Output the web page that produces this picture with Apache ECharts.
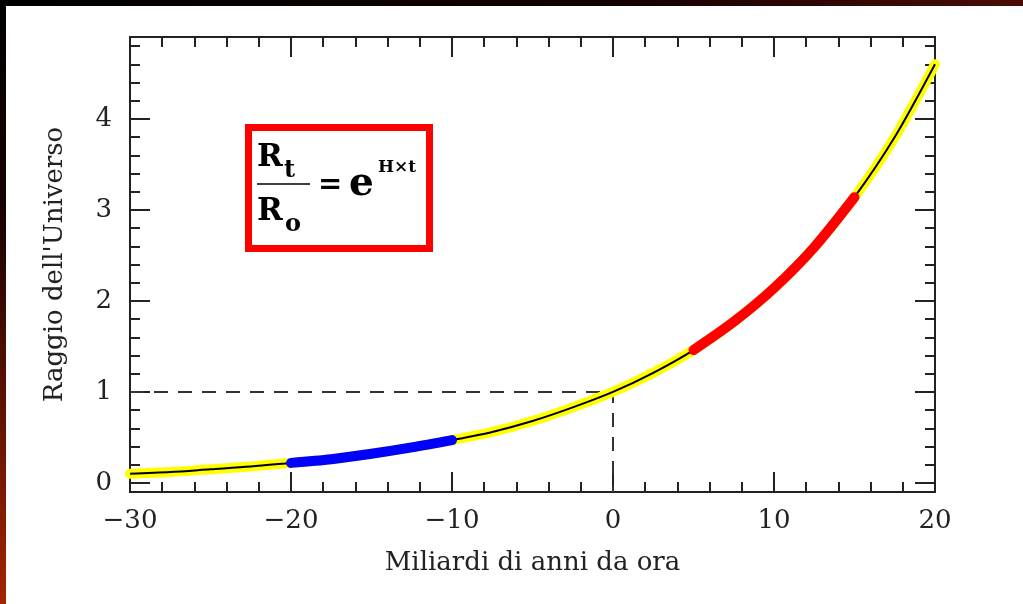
<!DOCTYPE html>
<html>
<head>
<meta charset="utf-8">
<script src="https://cdn.jsdelivr.net/npm/echarts@6/dist/echarts.min.js"></script>
<style>
  html, body { margin: 0; padding: 0; background: #fff; }
  #chart { width: 1023px; height: 604px; }
</style>
</head>
<body>
<div id="chart"></div>
<script>
// Time from now (billions of years) and relative radius of the Universe R(t)/R0
const years  = [-30, -27.5, -25, -22.5, -20, -17.5, -15, -12.5, -10, -7.5, -5, -2.5, 0, 2.5, 5, 7.5, 10, 12.5, 15, 17.5, 20];
const radius = [0.10, 0.12, 0.15, 0.18, 0.22, 0.26, 0.32, 0.39, 0.47, 0.56, 0.68, 0.83, 1.00, 1.21, 1.46, 1.77, 2.14, 2.59, 3.14, 3.80, 4.60];

// Highlighted stretches of the curve
const pastRange   = [-20, -10];
const futureRange = [5, 15];

// Reference guide: R = 1 today
const guideX = [-30, 0, 0];
const guideY = [1, 1, -0.1];

// Axis ticks
const yMajorTicks = [0, 1, 2, 3, 4];
const yMinorTicks = [0.2, 0.4, 0.6, 0.8, 1.2, 1.4, 1.6, 1.8, 2.2, 2.4, 2.6, 2.8, 3.2, 3.4, 3.6, 3.8, 4.2, 4.4, 4.6, 4.8];

const xTitle = 'Miliardi di anni da ora';
const yTitle = "Raggio dell'Universo";

const pairs = (xs, ys) => xs.map((x, i) => [x, ys[i]]);
const curve = pairs(years, radius);
const inRange = (r) => curve.filter(p => p[0] >= r[0] && p[0] <= r[1]);

const FONT = 'DejaVu Serif';
const INK = '#222222';
const minus = v => (v < 0 ? '\u2212' + Math.abs(v) : String(v));

const yMin = -0.1, yMax = 4.9;

function xAxisDef(pos, labels) {
  return {
    type: 'value', position: pos, min: -30, max: 20, interval: 10,
    axisLine: { show: true, onZero: false, lineStyle: { color: INK, width: 2 } },
    axisTick: { show: true, inside: true, length: 20, lineStyle: { color: INK, width: 2 } },
    minorTick: { show: true, splitNumber: 5, length: 10, lineStyle: { color: INK, width: 2 } },
    splitLine: { show: false },
    axisLabel: labels
      ? { show: true, margin: 16, color: INK, fontFamily: FONT, fontSize: 26, formatter: minus }
      : { show: false },
    name: labels ? xTitle : '',
    nameLocation: 'middle', nameGap: 58,
    nameTextStyle: { color: INK, fontFamily: FONT, fontSize: 26 }
  };
}

function yAxisDef(pos, ticks, len, labels) {
  return {
    type: 'value', position: pos, min: yMin, max: yMax,
    axisLine: { show: true, onZero: false, lineStyle: { color: INK, width: 2 } },
    axisTick: { show: true, inside: true, length: len, customValues: ticks, lineStyle: { color: INK, width: 2 } },
    splitLine: { show: false },
    axisLabel: labels
      ? { show: true, margin: 18, color: INK, fontFamily: FONT, fontSize: 26, customValues: yMajorTicks }
      : { show: false },
    name: labels ? yTitle : '',
    nameLocation: 'middle', nameGap: 62, nameRotate: 90,
    nameTextStyle: { color: INK, fontFamily: FONT, fontSize: 26 }
  };
}

// formula glyph helper: text is centred vertically on y
function glyph(text, x, y, size) {
  return {
    type: 'text', x: x, y: y, z: 51,
    style: { text: text, fontFamily: FONT, fontWeight: 'bold', fontSize: size, fill: '#000', align: 'left', verticalAlign: 'middle' }
  };
}

const chart = echarts.init(document.getElementById('chart'), null, { renderer: 'canvas' });

chart.setOption({
  backgroundColor: '#ffffff',
  animation: false,
  grid: { left: 130, right: 88, top: 37, bottom: 112, containLabel: false },
  xAxis: [xAxisDef('bottom', true), xAxisDef('top', false)],
  yAxis: [
    yAxisDef('left', yMajorTicks, 20, true),
    yAxisDef('left', yMinorTicks, 10, false),
    yAxisDef('right', yMajorTicks, 20, false),
    yAxisDef('right', yMinorTicks, 10, false)
  ],
  series: [
    {
      type: 'line', data: pairs(guideX, guideY), symbol: 'none', clip: false, z: 1,
      lineStyle: { color: '#333333', width: 2, type: [14, 10] }
    },
    {
      type: 'line', data: curve, smooth: 0.3, symbol: 'none', clip: false, z: 2,
      lineStyle: { color: '#ffff00', width: 10, cap: 'round' }
    },
    {
      type: 'line', data: curve, smooth: 0.3, symbol: 'none', clip: false, z: 3,
      lineStyle: { color: '#000000', width: 2 }
    },
    {
      type: 'line', data: inRange(pastRange), smooth: 0.3, symbol: 'none', clip: false, z: 4,
      lineStyle: { color: '#0000ff', width: 10, cap: 'round' }
    },
    {
      type: 'line', data: inRange(futureRange), smooth: 0.3, symbol: 'none', clip: false, z: 4,
      lineStyle: { color: '#ff0000', width: 10, cap: 'round' }
    }
  ],
  graphic: [
    // dark frame strips along the top and left edges
    {
      type: 'rect', left: 0, top: 0, shape: { width: 1023, height: 6 }, z: 100,
      style: { fill: new echarts.graphic.LinearGradient(0, 0, 1, 0, [
        { offset: 0, color: '#000000' }, { offset: 0.6, color: '#120100' }, { offset: 1, color: '#4a0c06' }
      ]) }
    },
    {
      type: 'rect', left: 0, top: 0, shape: { width: 6, height: 604 }, z: 100,
      style: { fill: new echarts.graphic.LinearGradient(0, 0, 0, 1, [
        { offset: 0, color: '#000000' }, { offset: 0.35, color: '#1a0200' }, { offset: 1, color: '#a42400' }
      ]) }
    },
    // formula box: R_t / R_o = e^(H×t)
    {
      type: 'rect', shape: { x: 248.5, y: 127.5, width: 181, height: 121 }, z: 50,
      style: { fill: '#ffffff', stroke: '#ff0000', lineWidth: 7 }
    },
    glyph('R', 257, 158, 31),
    glyph('t', 284, 171, 24),
    { type: 'line', shape: { x1: 257, y1: 184, x2: 310, y2: 184 }, z: 51, style: { stroke: '#000', lineWidth: 1.5 } },
    glyph('R', 257, 212, 31),
    glyph('o', 285, 225, 24),
    glyph('=', 318, 185, 29),
    glyph('e', 349, 185, 39),
    glyph('H\u00d7t', 378, 168, 17)
  ]
});
</script>
</body>
</html>
